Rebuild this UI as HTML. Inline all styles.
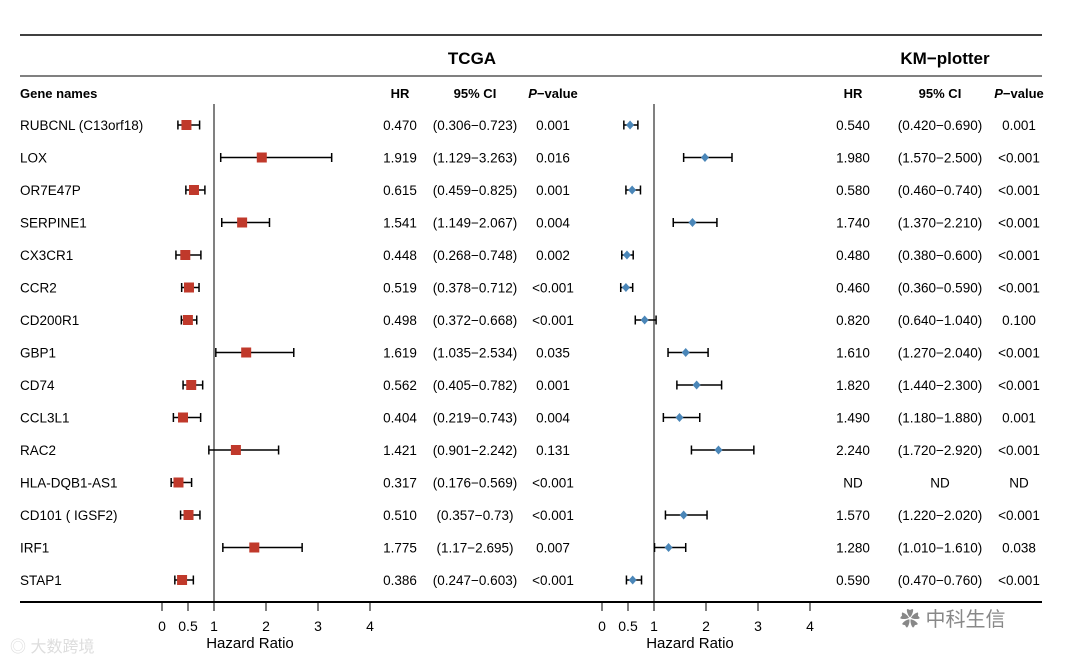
<!DOCTYPE html>
<html><head><meta charset="utf-8"><style>
body{margin:0;background:#fff;}
svg{display:block;font-family:"Liberation Sans",Arial,sans-serif;}
</style></head><body>
<svg id="chart" width="1068" height="665" viewBox="0 0 1068 665">
<line x1="20" y1="35" x2="1042" y2="35" stroke="#000" stroke-width="1.5"/>
<text x="472" y="64" font-size="17" font-weight="bold" text-anchor="middle">TCGA</text>
<text x="945" y="64" font-size="17" font-weight="bold" text-anchor="middle">KM−plotter</text>
<line x1="20" y1="76" x2="1042" y2="76" stroke="#000" stroke-width="1"/>
<g font-size="13" font-weight="bold">
<text x="20" y="98">Gene names</text>
<text x="400" y="98" text-anchor="middle">HR</text>
<text x="475" y="98" text-anchor="middle">95% CI</text>
<text x="553" y="98" text-anchor="middle"><tspan font-style="italic">P</tspan>−value</text>
<text x="853" y="98" text-anchor="middle">HR</text>
<text x="940" y="98" text-anchor="middle">95% CI</text>
<text x="1019" y="98" text-anchor="middle"><tspan font-style="italic">P</tspan>−value</text>
</g>
<line x1="20" y1="602" x2="1042" y2="602" stroke="#000" stroke-width="2"/>
<g id="rows"></g>
<text x="250" y="648" font-size="15" text-anchor="middle">Hazard Ratio</text>
<text x="690" y="648" font-size="15" text-anchor="middle">Hazard Ratio</text>
<text x="10" y="652" font-size="16" fill="#ddd">◎ 大数跨境</text>
<text x="900" y="626" font-size="20" fill="#888">✿ 中科生信</text>
</svg>
<script>
const genes=["RUBCNL (C13orf18)","LOX","OR7E47P","SERPINE1","CX3CR1","CCR2","CD200R1","GBP1","CD74","CCL3L1","RAC2","HLA-DQB1-AS1","CD101 ( IGSF2)","IRF1","STAP1"];
const tcgaHR=[0.470,1.919,0.615,1.541,0.448,0.519,0.498,1.619,0.562,0.404,1.421,0.317,0.510,1.775,0.386];
const tcgaLo=[0.306,1.129,0.459,1.149,0.268,0.378,0.372,1.035,0.405,0.219,0.901,0.176,0.357,1.17,0.247];
const tcgaHi=[0.723,3.263,0.825,2.067,0.748,0.712,0.668,2.534,0.782,0.743,2.242,0.569,0.73,2.695,0.603];
const tcgaHRText=["0.470","1.919","0.615","1.541","0.448","0.519","0.498","1.619","0.562","0.404","1.421","0.317","0.510","1.775","0.386"];
const tcgaCIText=["(0.306−0.723)","(1.129−3.263)","(0.459−0.825)","(1.149−2.067)","(0.268−0.748)","(0.378−0.712)","(0.372−0.668)","(1.035−2.534)","(0.405−0.782)","(0.219−0.743)","(0.901−2.242)","(0.176−0.569)","(0.357−0.73)","(1.17−2.695)","(0.247−0.603)"];
const tcgaP=["0.001","0.016","0.001","0.004","0.002","<0.001","<0.001","0.035","0.001","0.004","0.131","<0.001","<0.001","0.007","<0.001"];
const kmHR=[0.54,1.98,0.58,1.74,0.48,0.46,0.82,1.61,1.82,1.49,2.24,null,1.57,1.28,0.59];
const kmLo=[0.42,1.57,0.46,1.37,0.38,0.36,0.64,1.27,1.44,1.18,1.72,null,1.22,1.01,0.47];
const kmHi=[0.69,2.5,0.74,2.21,0.6,0.59,1.04,2.04,2.3,1.88,2.92,null,2.02,1.61,0.76];
const kmHRText=["0.540","1.980","0.580","1.740","0.480","0.460","0.820","1.610","1.820","1.490","2.240","ND","1.570","1.280","0.590"];
const kmCIText=["(0.420−0.690)","(1.570−2.500)","(0.460−0.740)","(1.370−2.210)","(0.380−0.600)","(0.360−0.590)","(0.640−1.040)","(1.270−2.040)","(1.440−2.300)","(1.180−1.880)","(1.720−2.920)","ND","(1.220−2.020)","(1.010−1.610)","(0.470−0.760)"];
const kmP=["0.001","<0.001","<0.001","<0.001","<0.001","<0.001","0.100","<0.001","<0.001","0.001","<0.001","ND","<0.001","0.038","<0.001"];
const ticks=[0,0.5,1,2,3,4];
const tickLabels=["0","0.5","1","2","3","4"];

const NS="http://www.w3.org/2000/svg";
const svg=document.getElementById('chart');
const g=document.getElementById('rows');
const xL=v=>162+v*52;
const xR=v=>602+v*52;
const yRow=i=>125+i*32.5;
function el(tag,attrs,parent){const e=document.createElementNS(NS,tag);for(const k in attrs)e.setAttribute(k,attrs[k]);(parent||g).appendChild(e);return e;}
function txt(x,y,s,anchor){const t=el('text',{x:x,y:y,'font-size':13.5,'text-anchor':anchor||'start'});t.textContent=s;return t;}
// reference lines
let r=el('line',{x1:xL(1),y1:104,x2:xL(1),y2:602,stroke:'#000','stroke-width':1});


r=el('line',{x1:xR(1),y1:104,x2:xR(1),y2:602,stroke:'#000','stroke-width':1});


function ci(xf,lo,hi,y,name){const grp=el('g',{stroke:'#000','stroke-width':1.5});


el('line',{x1:xf(lo),y1:y,x2:xf(hi),y2:y},grp);el('line',{x1:xf(lo),y1:y-4.5,x2:xf(lo),y2:y+4.5},grp);el('line',{x1:xf(hi),y1:y-4.5,x2:xf(hi),y2:y+4.5},grp);}
genes.forEach((gn,i)=>{const y=yRow(i);
let t=txt(20,y+5,gn);


ci(xL,tcgaLo[i],tcgaHi[i],y,'tcga-ci-'+i);
const sq=el('rect',{x:xL(tcgaHR[i])-5,y:y-5,width:10,height:10,fill:'#c0392b'});


t=txt(400,y+5,tcgaHRText[i],'middle');


t=txt(475,y+5,tcgaCIText[i],'middle');


t=txt(553,y+5,tcgaP[i],'middle');


if(kmHR[i]!==null){ci(xR,kmLo[i],kmHi[i],y,'km-ci-'+i);
const d=el('path',{d:`M${xR(kmHR[i])},${y-4.5}L${xR(kmHR[i])+4},${y}L${xR(kmHR[i])},${y+4.5}L${xR(kmHR[i])-4},${y}Z`,fill:'#4a86b8'});

}
t=txt(853,y+5,kmHRText[i],'middle');


t=txt(940,y+5,kmCIText[i],'middle');


t=txt(1019,y+5,kmP[i],'middle');


});
ticks.forEach((v,i)=>{[xL,xR].forEach((xf,j)=>{
const l=el('line',{x1:xf(v),y1:602,x2:xf(v),y2:611,stroke:'#000','stroke-width':1});


const t=el('text',{x:xf(v),y:631,'font-size':14,'text-anchor':'middle'});t.textContent=tickLabels[i];


});});
</script>
</body></html>
